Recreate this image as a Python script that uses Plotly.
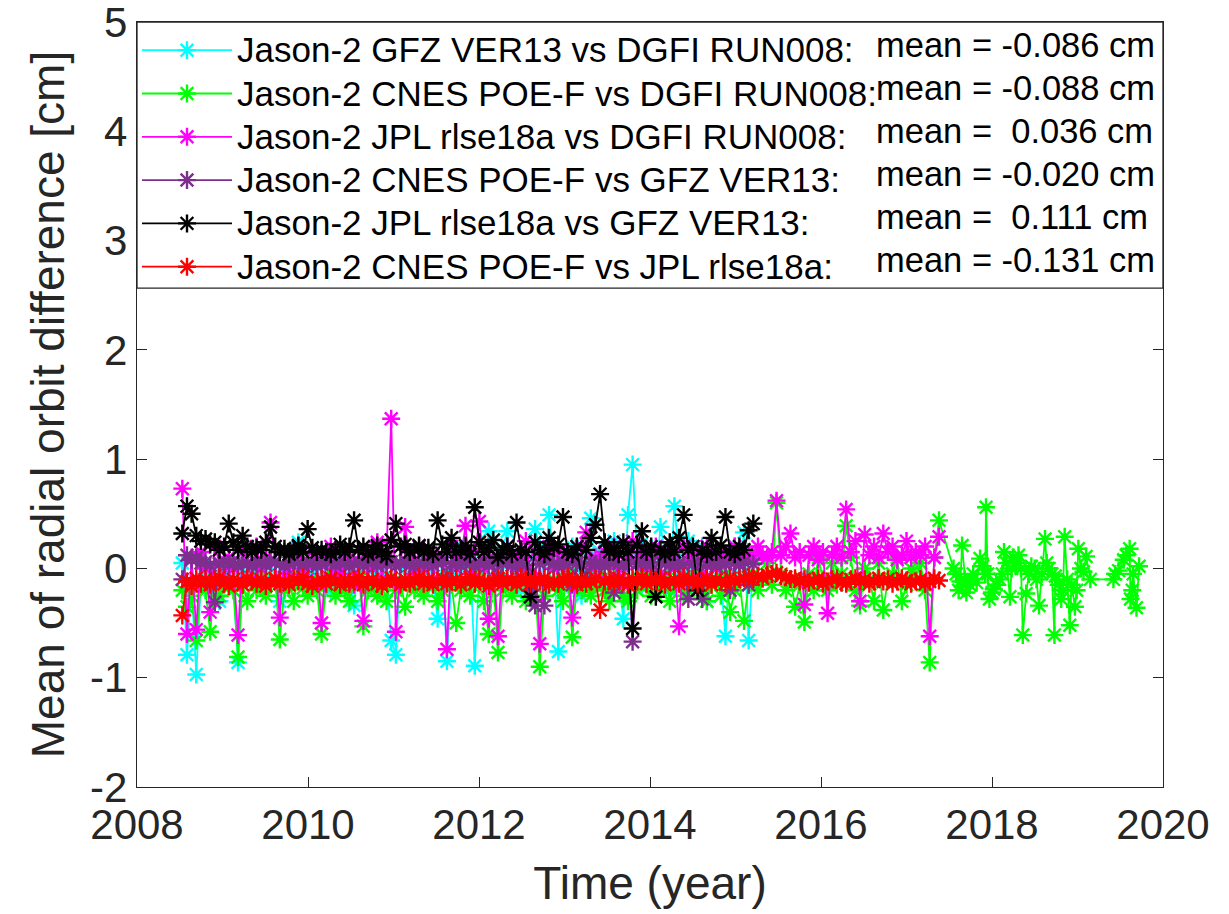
import plotly.graph_objects as go

# ---------------- data ----------------
# Jason-2 cycle epochs (every second 9.9156-day cycle, starting mid-2008)
CYCLE_T0 = 2008.53
CYCLE_STEP = 2 * 9.9156 / 365.25

names = [
    "Jason-2 GFZ VER13 vs DGFI RUN008:",
    "Jason-2 CNES POE-F vs DGFI RUN008:",
    "Jason-2 JPL rlse18a vs DGFI RUN008:",
    "Jason-2 CNES POE-F vs GFZ VER13:",
    "Jason-2 JPL rlse18a vs GFZ VER13:",
    "Jason-2 CNES POE-F vs JPL rlse18a:",
]
mean_texts = [
    "mean = -0.086 cm",
    "mean = -0.088 cm",
    "mean =  0.036 cm",
    "mean = -0.020 cm",
    "mean =  0.111 cm",
    "mean = -0.131 cm",
]
colors = ["#00FFFF", "#00FF00", "#FF00FF", "#7E2F8E", "#000000", "#FF0000"]

gfz_dgfi = [
    0.05, -0.79, -0.15, -0.97, -0.12, -0.05, -0.2, 0.02, -0.3, -0.08,
    -0.02, -0.15, -0.86, -0.05, 0.05, -0.1, 0.0, -0.18, -0.06, 0.08,
    -0.12, -0.3, -0.04, 0.03, -0.1, 0.24, -0.05, -0.15, 0.02, -0.08,
    0.1, -0.05, -0.2, 0.0, 0.12, -0.1, -0.05, -0.34, 0.05, -0.12,
    0.08, -0.02, -0.15, 0.1, -0.06, -0.66, -0.79, 0.05, -0.1, 0.15,
    -0.05, 0.0, -0.2, 0.08, -0.1, -0.46, 0.1, -0.85, -0.05, 0.2,
    0.05, -0.1, 0.12, -0.89, 0.0, -0.15, 0.34, 0.1, -0.05, 0.18,
    0.34, -0.1, 0.05, -0.2, 0.15, -0.05, 0.36, 0.2, -0.1, 0.49,
    0.1, -0.76, 0.05, -0.15, 0.2, 0.0, -0.25, 0.1, 0.46, -0.05,
    0.15, -0.2, 0.05, 0.25, -0.1, -0.46, 0.49, 0.95, 0.1, -0.15,
    0.2, 0.05, -0.1, 0.38, 0.15, -0.2, 0.57, 0.1, -0.05, 0.25,
    -0.15, 0.1, 0.2, -0.3, 0.05, 0.15, -0.1, -0.62, 0.1, 0.2,
    -0.05, 0.33, -0.66, 0.1,
]

cnes_dgfi = [
    -0.2, -0.35, -0.25, -0.66, -0.15, -0.2, -0.58, -0.1, -0.25, -0.15,
    -0.1, -0.2, -0.81, -0.15, -0.3, -0.1, -0.2, -0.05, -0.25, -0.15,
    -0.1, -0.65, -0.2, -0.12, -0.3, -0.05, -0.18, -0.25, -0.1, -0.2,
    -0.6, -0.15, -0.05, -0.25, -0.1, -0.2, -0.3, -0.12, -0.05, -0.53,
    -0.2, -0.1, -0.25, -0.15, -0.3, -0.08, -0.2, -0.12, -0.35, -0.1,
    -0.2, -0.05, -0.25, -0.15, -0.1, -0.3, -0.2, -0.1, -0.15, -0.5,
    -0.2, -0.1, -0.25, -0.05, -0.15, -0.3, -0.6, -0.1, -0.77, -0.2,
    -0.1, -0.25, -0.15, -0.05, -0.3, -0.2, -0.1, -0.9, -0.25, -0.15,
    -0.1, -0.2, -0.3, -0.05, -0.63, -0.15, -0.2, -0.1, -0.25, -0.15,
    -0.05, -0.2, -0.3, -0.1, -0.15, -0.25, -0.3, -0.1, -0.2, -0.05,
    -0.15, -0.25, -0.1, -0.2, -0.05, -0.3, -0.15, -0.1, -0.25, -0.2,
    -0.1, -0.05, -0.2, -0.3, -0.15, -0.1, -0.25, -0.05, -0.4, -0.2,
    -0.1, -0.48, -0.15, -0.05, -0.2, -0.1, 0.05, -0.15, 0.6, -0.05,
    -0.2, -0.1, -0.35, -0.15, -0.49, -0.05, -0.2, 0.1, -0.1, -0.2,
    0.05, -0.15, -0.05, 0.39, 0.1, -0.2, -0.34, 0.0, -0.1, -0.3,
    0.05, -0.38, -0.1, -0.05, 0.1, -0.3, -0.15, 0.0, -0.1, 0.05,
    -0.2, -0.86, 0.1, 0.44,
]
# CNES vs DGFI continues after 2017.4 with irregular epochs
cnes_dgfi_tail_t = [
    2017.55, 2017.58, 2017.61, 2017.63, 2017.65, 2017.68, 2017.70, 2017.74, 2017.78, 2017.82,
    2017.86, 2017.89, 2017.92, 2017.93, 2017.95, 2017.97, 2018.00, 2018.02, 2018.05, 2018.09,
    2018.12, 2018.14, 2018.17, 2018.21, 2018.23, 2018.25, 2018.28, 2018.31, 2018.34, 2018.36,
    2018.40, 2018.43, 2018.46, 2018.50, 2018.52, 2018.55, 2018.58, 2018.62, 2018.64, 2018.66,
    2018.70, 2018.73, 2018.74, 2018.78, 2018.81, 2018.83, 2018.85, 2018.88, 2018.91, 2018.93,
    2018.97, 2018.99, 2019.01, 2019.04, 2019.07, 2019.10, 2019.15, 2019.42, 2019.44, 2019.48,
    2019.54, 2019.57, 2019.61, 2019.62, 2019.64, 2019.65, 2019.69, 2019.72,
]
cnes_dgfi_tail = [
    0.0, -0.05, -0.2, -0.12, 0.21, -0.1, -0.22, -0.15, -0.05, -0.13,
    0.09, 0.02, -0.05, 0.56, -0.05, -0.28, -0.22, -0.19, -0.15, -0.1,
    -0.05, 0.15, 0.05, -0.26, 0.0, 0.1, 0.05, 0.12, 0.0, -0.61,
    -0.23, -0.05, 0.02, 0.0, -0.1, -0.34, -0.05, 0.27, 0.05, 0.0,
    -0.05, -0.61, -0.07, -0.15, -0.28, -0.2, 0.29, -0.1, -0.52, -0.15,
    -0.35, -0.2, 0.18, 0.0, -0.03, 0.11, -0.1, -0.1, -0.05, -0.02,
    0.08, 0.12, 0.18, -0.28, -0.2, -0.05, -0.36, 0.02,
]

jpl_dgfi = [
    0.73, -0.6, 0.1, -0.56, 0.15, 0.0, -0.4, 0.2, 0.05, -0.1,
    0.1, 0.0, -0.61, 0.15, 0.05, -0.1, 0.2, 0.0, 0.1, 0.42,
    0.05, -0.45, 0.15, -0.05, 0.1, 0.2, 0.0, -0.1, 0.15, 0.05,
    -0.5, 0.1, 0.2, 0.0, -0.05, 0.15, 0.1, -0.15, 0.05, -0.48,
    0.1, 0.0, 0.24, -0.1, 0.15, 1.37, -0.58, 0.05, 0.38, 0.1,
    -0.05, 0.2, 0.0, 0.15, -0.1, 0.1, 0.05, -0.74, 0.2, 0.0,
    0.1, 0.39, -0.05, 0.15, 0.43, 0.0, -0.46, 0.1, -0.62, 0.05,
    0.2, -0.1, 0.1, 0.0, 0.25, -0.05, 0.15, -0.69, 0.1, 0.2,
    0.0, 0.15, -0.1, 0.1, -0.45, 0.05, 0.2, 0.33, 0.0, 0.1,
    -0.1, 0.15, 0.05, 0.2, 0.0, -0.15, 0.1, 0.25, 0.05, 0.15,
    0.0, 0.1, 0.2, -0.05, 0.15, 0.1, 0.0, -0.53, 0.2, 0.05,
    0.1, 0.15, -0.05, 0.2, 0.1, 0.0, 0.15, 0.05, 0.1, 0.2,
    0.05, 0.1, 0.15, 0.08, 0.2, 0.12, 0.1, 0.15, 0.62, 0.12,
    0.2, 0.32, 0.1, 0.15, -0.33, 0.12, 0.2, 0.08, 0.15, -0.41,
    0.12, 0.2, 0.1, 0.54, 0.15, 0.25, -0.3, 0.31, 0.12, 0.2,
    0.1, 0.32, 0.15, 0.2, 0.08, 0.12, 0.25, 0.1, 0.15, 0.12,
    0.2, -0.62, 0.1, 0.29,
]

cnes_gfz = [
    -0.1, 0.12, 0.08, 0.1, 0.05, 0.06, 0.03, -0.31, 0.04, 0.06,
    0.04, 0.06, 0.02, 0.05, 0.04, 0.02, 0.06, 0.05, 0.03, 0.07,
    0.06, 0.04, 0.02, 0.05, 0.07, 0.05, 0.03, 0.06, 0.05, 0.02,
    0.04, 0.07, 0.05, 0.03, 0.06, 0.05, 0.02, 0.04, 0.06, 0.03,
    0.05, 0.07, 0.03, 0.05, 0.04, 0.06, 0.02, 0.04, 0.07, 0.03,
    0.02, 0.05, 0.04, 0.06, 0.03, 0.05, 0.06, -0.1, 0.04, 0.05,
    0.03, 0.06, 0.04, 0.02, 0.05, 0.07, 0.03, 0.05, -0.1, 0.04,
    0.06, 0.03, 0.02, 0.05, 0.03, -0.2, -0.34, 0.04, -0.34, 0.06,
    0.04, 0.02, 0.06, 0.03, -0.15, 0.05, 0.04, -0.1, 0.06, 0.03,
    0.05, 0.02, 0.06, -0.22, 0.04, 0.03, 0.05, -0.67, 0.04, 0.06,
    0.03, 0.05, -0.1, 0.06, 0.04, 0.07, 0.02, 0.05, 0.03, -0.28,
    0.04, 0.06, -0.28, 0.03, 0.05, 0.02, 0.06, 0.04, -0.2, 0.05,
    0.03, 0.06, -0.15, 0.04,
]

jpl_gfz = [
    0.32, 0.57, 0.5, 0.3, 0.25, 0.27, 0.22, 0.24, 0.17, 0.2,
    0.41, 0.24, 0.17, 0.3, 0.2, 0.15, 0.19, 0.17, 0.24, 0.38,
    0.2, 0.15, 0.18, 0.13, 0.17, 0.21, 0.15, 0.36, 0.19, 0.15,
    0.17, 0.15, 0.13, 0.17, 0.22, 0.15, 0.2, 0.44, 0.17, 0.2,
    0.13, 0.17, 0.21, 0.15, 0.11, 0.26, 0.41, 0.2, 0.22, 0.15,
    0.17, 0.21, 0.15, 0.19, 0.13, 0.44, 0.22, 0.15, 0.28, 0.15,
    0.17, 0.21, 0.13, 0.56, 0.24, 0.15, 0.19, 0.26, 0.1, 0.17,
    0.2, 0.13, 0.42, 0.17, 0.15, -0.26, 0.24, 0.17, 0.13, 0.28,
    0.19, 0.22, 0.47, 0.15, 0.13, 0.2, -0.1, 0.17, 0.28, 0.4,
    0.68, 0.24, 0.15, 0.19, 0.13, 0.24, 0.15, -0.55, 0.21, 0.34,
    0.15, 0.2, -0.26, 0.17, 0.13, 0.24, 0.15, 0.28, 0.49, 0.17,
    0.2, -0.2, 0.17, 0.13, 0.28, 0.15, 0.21, 0.47, 0.15, 0.13,
    0.2, 0.17, 0.35, 0.41,
]

cnes_jpl = [
    -0.43, -0.12, -0.16, -0.09, -0.14, -0.1, -0.15, -0.12, -0.08, -0.14,
    -0.16, -0.1, -0.12, -0.15, -0.09, -0.12, -0.14, -0.1, -0.16, -0.12,
    -0.09, -0.14, -0.12, -0.15, -0.1, -0.12, -0.08, -0.14, -0.16, -0.12,
    -0.1, -0.14, -0.09, -0.12, -0.15, -0.1, -0.14, -0.12, -0.08, -0.15,
    -0.12, -0.1, -0.14, -0.16, -0.12, -0.09, -0.12, -0.15, -0.1, -0.14,
    -0.12, -0.08, -0.14, -0.1, -0.15, -0.12, -0.09, -0.14, -0.12, -0.1,
    -0.15, -0.12, -0.08, -0.14, -0.1, -0.12, -0.16, -0.12, -0.09, -0.14,
    -0.1, -0.12, -0.15, -0.08, -0.12, -0.14, -0.1, -0.12, -0.09, -0.15,
    -0.12, -0.14, -0.1, -0.08, -0.12, -0.15, -0.1, -0.14, -0.12, -0.09,
    -0.38, -0.12, -0.1, -0.14, -0.09, -0.12, -0.15, -0.1, -0.12, -0.08,
    -0.14, -0.1, -0.12, -0.09, -0.15, -0.12, -0.1, -0.14, -0.08, -0.12,
    -0.1, -0.14, -0.12, -0.09, -0.15, -0.1, -0.12, -0.14, -0.09, -0.12,
    -0.1, -0.09, -0.08, -0.1, -0.07, -0.09, -0.06, -0.05, -0.04, -0.07,
    -0.08, -0.1, -0.09, -0.12, -0.1, -0.13, -0.11, -0.09, -0.14, -0.12,
    -0.1, -0.09, -0.13, -0.14, -0.1, -0.09, -0.12, -0.1, -0.14, -0.12,
    -0.09, -0.12, -0.1, -0.14, -0.12, -0.09, -0.11, -0.14, -0.12, -0.1,
    -0.14, -0.12, -0.09, -0.11,
]

x_ticks = [2008, 2010, 2012, 2014, 2016, 2018, 2020]
y_ticks = [-2, -1, 0, 1, 2, 3, 4, 5]
y_ticktext = ["-2", "-1", "0", "1", "2", "3", "4", "5"]


# ---------------- build ----------------
def epochs(vals):
    return [CYCLE_T0 + k * CYCLE_STEP for k in range(len(vals))]


series = [
    (epochs(gfz_dgfi), gfz_dgfi),
    (epochs(cnes_dgfi) + cnes_dgfi_tail_t, cnes_dgfi + cnes_dgfi_tail),
    (epochs(jpl_dgfi), jpl_dgfi),
    (epochs(cnes_gfz), cnes_gfz),
    (epochs(jpl_gfz), jpl_gfz),
    (epochs(cnes_jpl), cnes_jpl),
]

FONT = "Arial, 'Liberation Sans', Helvetica, sans-serif"
AXC = "#262626"
LEG_SIZE = 35

fig = go.Figure()
for (xs, ys), nm, c in zip(series, names, colors):
    fig.add_trace(go.Scatter(
        x=xs, y=ys, name='<span style="font-size:%dpx">%s</span>' % (LEG_SIZE, nm),
        mode="lines+markers",
        line=dict(color=c, width=1.8),
        marker=dict(symbol="asterisk-open", size=15, color=c,
                    line=dict(color=c, width=2.4)),
    ))

axis_common = dict(
    showgrid=False, zeroline=False, showline=True, mirror="ticks",
    linecolor=AXC, linewidth=1.3, ticks="inside", ticklen=10,
    tickwidth=1.3, tickcolor=AXC, automargin=False, ticklabeloverflow="allow",
    tickfont=dict(family=FONT, size=42, color=AXC),
)

# the page body adds an 8 px offset, so margins are shifted accordingly
fig.update_layout(
    width=1229, height=914, autosize=False,
    margin=dict(l=129, r=74, t=14, b=135),
    paper_bgcolor="white", plot_bgcolor="white",
    font=dict(family=FONT, color=AXC),
    xaxis=dict(range=[2008, 2020], tickvals=x_ticks,
               title=dict(text="Time (year)", font=dict(family=FONT, size=46, color=AXC), standoff=20),
               **axis_common),
    yaxis=dict(range=[-2, 5], tickvals=y_ticks, ticktext=y_ticktext,
               title=dict(text="Mean of radial orbit difference [cm]", font=dict(family=FONT, size=46, color=AXC), standoff=10),
               **axis_common),
    legend=dict(x=0, y=0.998, xanchor="left", yanchor="top", xref="paper", yref="paper",
                bgcolor="rgba(0,0,0,0)", borderwidth=0,
                font=dict(family=FONT, size=31, color="black"),
                itemwidth=90, tracegroupgap=0),
    showlegend=True,
)

# legend frame spanning the full width of the axes
LEG_BOTTOM = 0.652
fig.add_shape(type="rect", xref="paper", yref="paper", x0=0, x1=1, y0=LEG_BOTTOM, y1=1,
              line=dict(color=AXC, width=1.3), fillcolor="white", layer="above")

ROW0 = 0.970
ROW_STEP = 0.0562
for k, txt in enumerate(mean_texts):
    fig.add_annotation(xref="paper", yref="paper", x=0.718, y=ROW0 - ROW_STEP * k,
                       xanchor="left", yanchor="middle", showarrow=False,
                       text=txt.replace("  ", "&nbsp; "),
                       font=dict(family=FONT, size=34.5, color="black"))

fig.write_html("out.html")
